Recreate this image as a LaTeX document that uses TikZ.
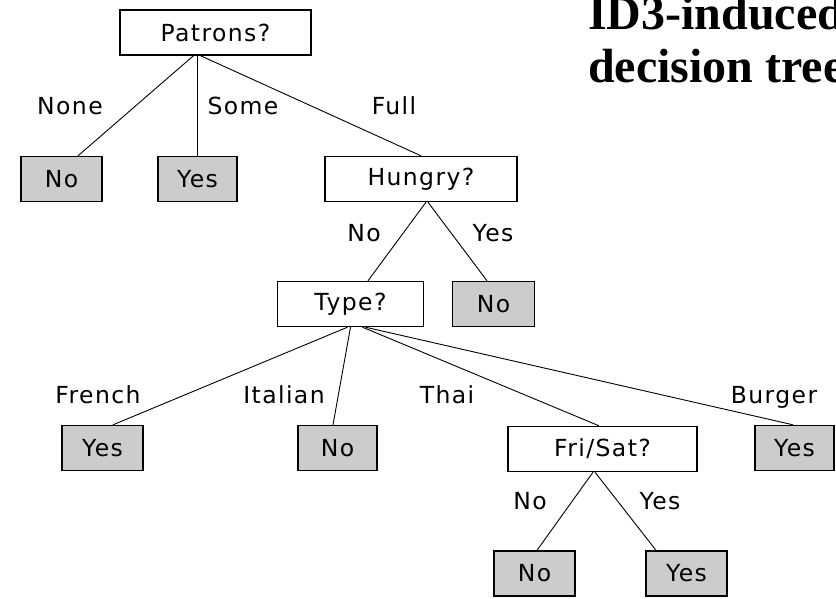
\documentclass[tikz,border=0pt]{standalone}
\usepackage{fontspec}
\setmainfont{DejaVu Sans}
\newfontfamily\treefont[LetterSpace=6]{DejaVu Sans}
\newfontfamily\titlefont{Liberation Serif}
\begin{document}
\begin{tikzpicture}[x=1pt,y=-1pt,
  tnode/.style={draw=black,line width=1.4pt,rectangle,inner sep=0pt,
    minimum height=45pt,font=\treefont\fontsize{23.5}{28}\selectfont},
  test/.style={tnode,fill=white},
  leaf/.style={tnode,fill=black!20},
  branch/.style={draw=black,line width=0.9pt},
  blabel/.style={inner sep=0pt,anchor=base,font=\treefont\fontsize{23.5}{28}\selectfont},
  ttl/.style={inner sep=0pt,anchor=base west,font=\titlefont\bfseries\fontsize{48}{54}\selectfont}]
\useasboundingbox[fill=white] (0,0) rectangle (836,599);

% heading, running off the right edge of the page
\node[ttl] (title1) at (588,30) {ID3-induced};
\node[ttl] (title2) at (588,83) {decision tree};

% tests and leaves
\node[test,minimum width=191pt] (patrons) at (215.5,32.5) {Patrons?};
\node[leaf,minimum width=81pt] (none) at (61.5,179) {No};
\node[leaf,minimum width=79pt] (some) at (197.5,179) {Yes};
\node[test,minimum width=192pt] (hungry) at (421,179) {Hungry?};
\node[test,minimum width=146pt] (type) at (350.5,304) {Type?};
\node[leaf,minimum width=82pt] (full) at (493.5,304) {No};
\node[leaf,minimum width=81pt] (french) at (102.5,448) {Yes};
\node[leaf,minimum width=79pt] (italian) at (337.5,448) {No};
\node[test,minimum width=189pt] (frisat) at (602.5,449) {Fri/Sat?};
\node[leaf,minimum width=79pt] (burger) at (794.5,448) {Yes};
\node[leaf,minimum width=81pt] (wkno) at (534.5,573.5) {No};
\node[leaf,minimum width=81pt] (wkyes) at (686.5,573.5) {Yes};

% branches
\draw[branch] ([xshift=-22pt]patrons.south) -- ([xshift=16.5pt]none.north);
\draw[branch] ([xshift=-18pt]patrons.south) -- (some.north);
\draw[branch] ([xshift=-15pt]patrons.south) -- (hungry.north);
\draw[branch] ([xshift=5pt]hungry.south) -- ([xshift=17.5pt]type.north);
\draw[branch] ([xshift=7pt]hungry.south) -- ([xshift=-6.5pt]full.north);
\draw[branch] ([xshift=-3pt]type.south) -- ([xshift=10.5pt]french.north);
\draw[branch] ([xshift=0pt]type.south) -- ([xshift=-4.5pt]italian.north);
\draw[branch] ([xshift=12pt]type.south) -- ([xshift=-3.5pt]frisat.north);
\draw[branch] ([xshift=15pt]type.south) -- ([xshift=-1.5pt]burger.north);
\draw[branch] ([xshift=-9.5pt]frisat.south) -- ([xshift=2.5pt]wkno.north);
\draw[branch] ([xshift=-7.5pt]frisat.south) -- ([xshift=-30.5pt]wkyes.north);

% branch labels
\node[blabel] (lnone) at (70,115) {None};
\node[blabel] (lsome) at (243,115) {Some};
\node[blabel] (lfull) at (394,115) {Full};
\node[blabel] (lhno) at (364,241) {No};
\node[blabel] (lhyes) at (493,241) {Yes};
\node[blabel] (lfrench) at (98,403) {French};
\node[blabel] (litalian) at (284,403) {Italian};
\node[blabel] (lthai) at (447,403) {Thai};
\node[blabel] (lburger) at (774,403) {Burger};
\node[blabel] (lfno) at (530,509) {No};
\node[blabel] (lfyes) at (660,509) {Yes};
\end{tikzpicture}
\end{document}
